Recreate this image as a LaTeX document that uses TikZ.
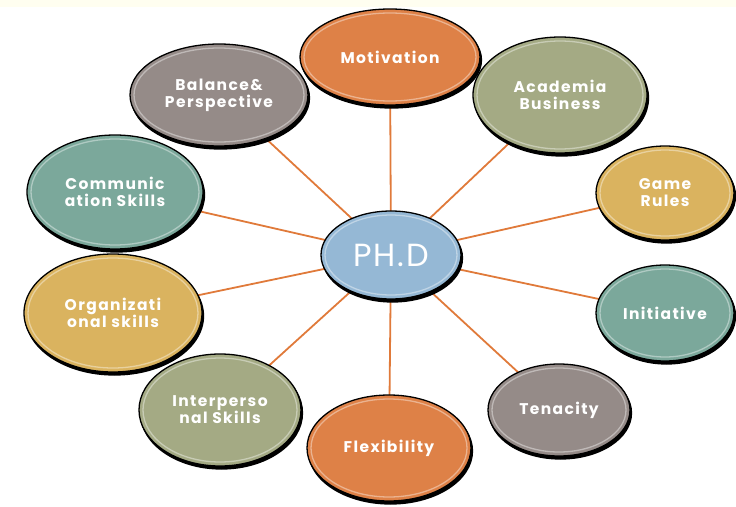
\documentclass[tikz,border=0pt]{standalone}
\usepackage{fontspec}
\newfontfamily\bubblefont{Poppins}[LetterSpace=9]
\newfontfamily\hubfont{Poppins}[LetterSpace=6]
\usetikzlibrary{shapes.geometric,backgrounds,calc}
\definecolor{topband}{HTML}{FFFEF0}
\definecolor{linkorange}{HTML}{E07A3A}
\definecolor{bubOrange}{HTML}{DE8147}
\definecolor{bubGray}{HTML}{958B88}
\definecolor{bubOlive}{HTML}{A4AA84}
\definecolor{bubGold}{HTML}{DAB35F}
\definecolor{bubTeal}{HTML}{7BA89B}
\definecolor{bubBlue}{HTML}{95B8D5}
\tikzset{%
  bubble/.style n args = {3}{ellipse, inner sep=0pt, align=center,
    minimum width=#2, minimum height=#3, fill=#1, text=white,
    font=\bubblefont\bfseries\fontsize{15.5}{17}\selectfont,
    draw=black, line width=1.3pt,
    preaction={fill=black, draw=black, line width=1.3pt,
      transform canvas={shift={(1.5pt,-3pt)}}},
    path picture={\draw[white, opacity=.4, line width=1.3pt]
      let \p1 = ($(path picture bounding box.north east)-(path picture bounding box.center)$)
      in (path picture bounding box.center) ellipse [x radius=\x1-4pt, y radius=\y1-4pt];}}, % Skill
  hub/.style      = {bubble={bubBlue}{140pt}{88pt},
    font=\hubfont\fontsize{32}{34}\selectfont}, % Centre
  link/.style     = {draw=linkorange, line width=1.8pt} % Spoke
}

\begin{document}
\begin{tikzpicture}[x=1pt, y=-1pt]
  \useasboundingbox (0,0) rectangle (736,506);
  \fill[topband] (0,0) rectangle (736,7);
  \node[hub] (phd) at (391,255) {PH.D};
  \node[bubble={bubOrange}{180pt}{96pt}] (motiv) at (390,57) {Motivation};
  \node[bubble={bubOlive}{174pt}{116pt}] (acad) at (560,95) {Academia\\Business};
  \node[bubble={bubGold}{138pt}{94pt}] (game) at (665,193) {Game\\Rules};
  \node[bubble={bubTeal}{138pt}{96pt}] (init) at (665,313) {Initiative};
  \node[bubble={bubGray}{142pt}{92pt}] (tenac) at (559,410) {Tenacity};
  \node[bubble={bubOrange}{164pt}{106pt}] (flex) at (389,448) {Flexibility};
  \node[bubble={bubOlive}{162pt}{112pt}] (inter) at (220,410) {Interperso\\nal Skills};
  \node[bubble={bubGold}{178pt}{118pt}] (organ) at (113,313) {Organizati\\onal skills};
  \node[bubble={bubTeal}{176pt}{114pt}] (comm) at (115,192) {Communic\\ation Skills};
  \node[bubble={bubGray}{178pt}{102pt}] (balance) at (219,95) {Balance\&\\Perspective};
  \begin{scope}[on background layer]
    \foreach \n in {motiv,acad,game,init,tenac,flex,inter,organ,comm,balance}
      \draw[link] (phd.center) -- (\n.center);
  \end{scope}
\end{tikzpicture}
\end{document}
